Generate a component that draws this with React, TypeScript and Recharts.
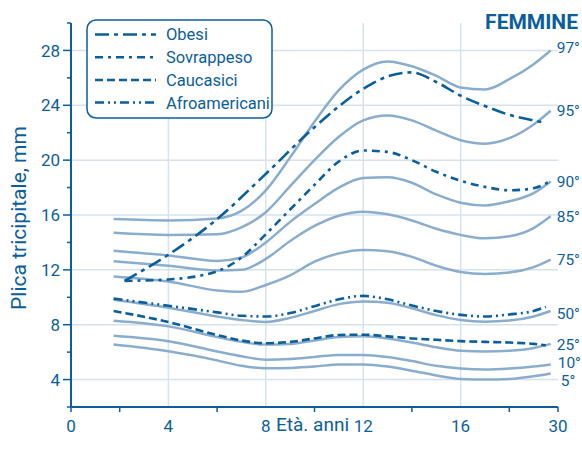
import React from "react"
import { CartesianGrid, Line, LineChart, XAxis, YAxis } from "recharts"

// età (anni) dei punti delle curve percentili
const percentileAges = [1.75, 4, 6, 7, 8, 9, 10, 11, 12, 13, 14, 15, 16, 17, 18, 19, 19.7]
const p97 = [15.7, 15.6, 15.75, 16.3, 17.8, 20.2, 22.8, 25.1, 26.6, 27.2, 26.85, 26.15, 25.3, 25.15, 25.9, 27.0, 28.0]
const p95 = [14.7, 14.55, 14.6, 15.1, 16.2, 18.1, 20.0, 21.7, 22.9, 23.25, 22.9, 22.15, 21.45, 21.2, 21.6, 22.6, 23.6]
const p90 = [13.4, 13.05, 12.65, 12.9, 14.0, 15.5, 16.8, 18.0, 18.7, 18.75, 18.35, 17.5, 16.9, 16.7, 17.0, 17.6, 18.45]
const p85 = [12.63, 12.3, 11.95, 12.0, 12.8, 14.1, 15.2, 15.95, 16.24, 16.05, 15.6, 15.0, 14.55, 14.3, 14.45, 15.05, 15.9]
const p75 = [11.52, 11.15, 10.5, 10.4, 10.9, 11.6, 12.6, 13.2, 13.45, 13.35, 12.95, 12.3, 11.85, 11.7, 11.8, 12.2, 12.75]
const p50 = [9.82, 9.24, 8.6, 8.35, 8.2, 8.5, 9.0, 9.5, 9.7, 9.6, 9.2, 8.7, 8.35, 8.22, 8.3, 8.6, 9.0]
const p25 = [8.29, 7.88, 7.1, 6.75, 6.55, 6.6, 6.85, 7.1, 7.15, 7.0, 6.7, 6.35, 6.1, 6.05, 6.1, 6.3, 6.6]
const p10 = [7.2, 6.8, 6.05, 5.7, 5.45, 5.5, 5.65, 5.8, 5.8, 5.65, 5.35, 5.0, 4.8, 4.73, 4.8, 4.95, 5.1]
const p5 = [6.55, 6.06, 5.4, 5.0, 4.82, 4.85, 4.95, 5.1, 5.1, 4.95, 4.65, 4.3, 4.05, 4.0, 4.05, 4.25, 4.45]

const groupAges = [1.75, 4, 6, 7, 8, 9, 10, 11, 12, 13, 14, 15, 16, 17, 18, 19, 19.5]
const afroamericani = [9.9, 9.38, 8.9, 8.65, 8.6, 8.85, 9.35, 9.85, 10.1, 9.85, 9.4, 9.0, 8.72, 8.6, 8.75, 9.0, 9.3]
const caucasici = [9.0, 8.2, 7.25, 6.85, 6.65, 6.75, 7.0, 7.25, 7.27, 7.15, 7.0, 6.9, 6.8, 6.75, 6.7, 6.6, 6.5]

const obesiAges = [2.2, 4, 6, 8, 10, 12, 13, 14, 15, 16, 17, 18, 19, 19.4]
const obesi = [11.2, 13.1, 15.7, 19.0, 22.4, 25.2, 26.1, 26.4, 25.7, 24.7, 23.95, 23.3, 22.9, 22.75]

const sovrappesoAges = [2.2, 4, 6, 7, 8, 9, 10, 11, 12, 13, 14, 15, 16, 17, 18, 19, 19.6]
const sovrappeso = [11.2, 11.3, 11.9, 12.9, 14.6, 16.4, 18.2, 19.9, 20.7, 20.6, 20.0, 19.15, 18.5, 18.05, 17.8, 17.95, 18.4]

const xTicks = [0, 2, 4, 6, 8, 10, 12, 14, 16, 18, 20]
const xTickLabels = ["0", "", "4", "", "8", "", "12", "", "16", "", "30"]
const yTicks = [2, 4, 6, 8, 10, 12, 14, 16, 18, 20, 22, 24, 26, 28, 30]
const yTickLabels = ["", "4", "", "8", "", "12", "", "16", "", "20", "", "24", "", "28", ""]
const gridX = [4, 8, 12, 16]
const gridY = [4, 8, 12, 16, 20, 24, 28]

const ink = "#0b5e9c"
const percentileColor = "#8aadcd"
const gridColor = "#d6e3ee"
const font = "Roboto, 'Noto Sans', sans-serif"

type Series = { key: string; name: string; ages: number[]; values: number[] }

const percentiles: Series[] = [
  { key: "p97", name: "97°", ages: percentileAges, values: p97 },
  { key: "p95", name: "95°", ages: percentileAges, values: p95 },
  { key: "p90", name: "90°", ages: percentileAges, values: p90 },
  { key: "p85", name: "85°", ages: percentileAges, values: p85 },
  { key: "p75", name: "75°", ages: percentileAges, values: p75 },
  { key: "p50", name: "50°", ages: percentileAges, values: p50 },
  { key: "p25", name: "25°", ages: percentileAges, values: p25 },
  { key: "p10", name: "10°", ages: percentileAges, values: p10 },
  { key: "p5", name: "5°", ages: percentileAges, values: p5 },
]

const groups: Series[] = [
  { key: "obesi", name: "Obesi", ages: obesiAges, values: obesi },
  { key: "sovrappeso", name: "Sovrappeso", ages: sovrappesoAges, values: sovrappeso },
  { key: "caucasici", name: "Caucasici", ages: groupAges, values: caucasici },
  { key: "afro", name: "Afroamericani", ages: groupAges, values: afroamericani },
]

const dashes: Record<string, string> = {
  obesi: "14 5 4 5",
  sovrappeso: "8 5 3 5",
  caucasici: "8 4",
  afro: "9 4 2 4 2 4",
}

// spostamento delle etichette dei percentili a fine curva
const labelShift: Record<string, [number, number]> = {
  p97: [6, -3],
  p95: [6, 0],
  p90: [6, 0],
  p85: [6, 0],
  p75: [6, 0],
  p50: [6, 2],
  p25: [6, 0.5],
  p10: [7, -2],
  p5: [10, 7],
}

type Row = { age: number; [key: string]: number | null }

function buildRows() {
  const all = [...percentiles, ...groups]
  const ages = Array.from(new Set(all.flatMap((s) => s.ages))).sort((a, b) => a - b)
  return ages.map((age) => {
    const row: Row = { age }
    all.forEach((s) => {
      const i = s.ages.indexOf(age)
      row[s.key] = i >= 0 ? s.values[i] : null
    })
    return row
  })
}

const rows = buildRows()

function lastIndex(key: string) {
  let last = -1
  rows.forEach((row, i) => {
    if (row[key] != null) last = i
  })
  return last
}

function XTick(props: any) {
  const { x, y, payload } = props
  const i = xTicks.indexOf(payload.value)
  const label = xTickLabels[i] ?? ""
  const showLine = !gridX.includes(payload.value)
  return (
    <g>
      {showLine ? (
        <line x1={x} x2={x} y1={y - 13} y2={y - 8} stroke={ink} strokeWidth={1.5} />
      ) : null}
      {label ? (
        <text x={x} y={y} dy="0.71em" textAnchor="middle" fill={ink} fontSize={17} fontFamily={font}>
          {label}
        </text>
      ) : null}
    </g>
  )
}

function YTick(props: any) {
  const { x, y, payload } = props
  const i = yTicks.indexOf(payload.value)
  const label = yTickLabels[i] ?? ""
  return (
    <g>
      <line x1={x + (label ? 3 : 7)} x2={x + 11} y1={y} y2={y} stroke={ink} strokeWidth={1.5} />
      {label ? (
        <text x={x} y={y} dy="0.36em" textAnchor="end" fill={ink} fontSize={17} fontFamily={font}>
          {label}
        </text>
      ) : null}
    </g>
  )
}

function Overlay() {
  const rowsY = [34.5, 57.2, 79.9, 102.6]
  return (
    <svg
      width={582}
      height={460}
      style={{ position: "absolute", left: 0, top: 0, pointerEvents: "none" }}
    >
      <text x={578} y={29} textAnchor="end" fill={ink} fontSize={21} fontWeight="bold" fontFamily={font}>
        FEMMINE
      </text>
      <rect x={87} y={20} width={185} height={98} rx={9} fill="#ffffff" stroke={ink} strokeWidth={1.5} />
      {groups.map((g, i) => (
        <g key={g.key}>
          <line
            x1={95}
            x2={156}
            y1={rowsY[i]}
            y2={rowsY[i]}
            stroke={ink}
            strokeWidth={2.5}
            strokeDasharray={dashes[g.key]}
          />
          <text x={166} y={rowsY[i]} dy="0.36em" fill={ink} fontSize={16.5} fontFamily={font}>
            {g.name}
          </text>
        </g>
      ))}
    </svg>
  )
}

export default function App() {
  return (
    <div
      style={{
        position: "absolute",
        left: 0,
        top: 0,
        width: 582,
        height: 460,
        background: "#ffffff",
        fontFamily: font,
      }}
    >
      <LineChart width={582} height={460} data={rows} margin={{ top: 23, right: 24, bottom: 0, left: 0 }}>
        <CartesianGrid
          stroke={gridColor}
          strokeWidth={1.5}
          horizontalValues={gridY}
          verticalValues={gridX}
        />
        <XAxis
          dataKey="age"
          type="number"
          domain={[0, 20]}
          ticks={xTicks}
          interval={0}
          height={53}
          tickSize={5}
          tickMargin={8}
          tickLine={false}
          tick={<XTick />}
          axisLine={{ stroke: ink, strokeWidth: 2 }}
          label={{
            content: ({ viewBox }: any) => (
              <text
                x={viewBox.x + viewBox.width / 2 - 2}
                y={431}
                textAnchor="middle"
                fill={ink}
                fontSize={19}
                fontFamily={font}
              >
                Età. anni
              </text>
            ),
          }}
        />
        <YAxis
          type="number"
          domain={[2, 30]}
          ticks={yTicks}
          interval={0}
          width={71}
          tickSize={8}
          tickMargin={3}
          tickLine={false}
          tick={<YTick />}
          axisLine={{ stroke: ink, strokeWidth: 2 }}
          label={{
            content: ({ viewBox }: any) => {
              const cy = viewBox.y + viewBox.height / 2 + 3
              return (
                <text
                  x={26}
                  y={cy}
                  transform={`rotate(-90 26 ${cy})`}
                  textAnchor="middle"
                  fill={ink}
                  fontSize={21}
                  fontFamily={font}
                >
                  Plica tricipitale, mm
                </text>
              )
            },
          }}
        />
        {percentiles.map((p) => {
          const last = lastIndex(p.key)
          const [dx, dy] = labelShift[p.key]
          return (
            <Line
              key={p.key}
              dataKey={p.key}
              name={p.name}
              type="monotone"
              stroke={percentileColor}
              strokeWidth={2.5}
              dot={false}
              connectNulls
              isAnimationActive={false}
              label={(lp: any) =>
                lp.index === last ? (
                  <text
                    key={p.key}
                    x={lp.x + dx}
                    y={lp.y + dy}
                    dy="0.36em"
                    fill={ink}
                    fontSize={15.5}
                    fontFamily={font}
                  >
                    {p.name}
                  </text>
                ) : null
              }
            />
          )
        })}
        {groups.map((g) => (
          <Line
            key={g.key}
            dataKey={g.key}
            name={g.name}
            type="monotone"
            stroke={ink}
            strokeWidth={2.6}
            strokeDasharray={dashes[g.key]}
            dot={false}
            connectNulls
            isAnimationActive={false}
          />
        ))}
      </LineChart>
      <Overlay />
    </div>
  )
}
